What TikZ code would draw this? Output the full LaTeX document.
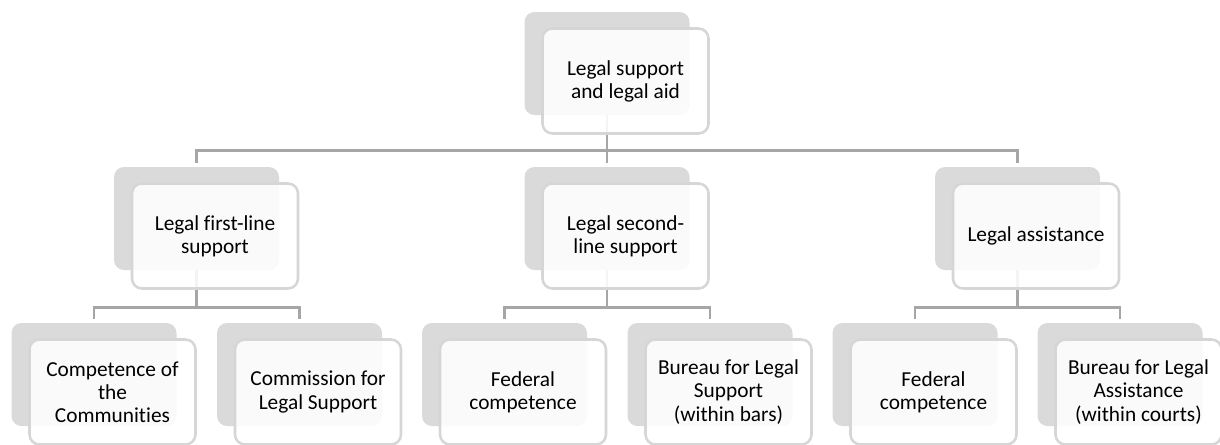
\documentclass[tikz,border=0pt]{standalone}
\usepackage{fontspec}
\setmainfont{Carlito}[Ligatures=NoCommon]
\usepackage{tikz}

\begin{document}
\begin{tikzpicture}[x=0.75pt,y=-0.75pt,
    backbox/.style={fill={rgb, 255:red, 218; green, 218; blue, 218 }, rounded corners=7.5pt, minimum width=123.75pt, minimum height=77.25pt, inner sep=0pt},
    frontbox/.style={draw={rgb, 255:red, 214; green, 214; blue, 214 }, line width=1.9pt, fill=white, fill opacity=0.88, text opacity=1, rounded corners=7.5pt, minimum width=124.5pt, minimum height=78.75pt, align=center, font=\fontsize{16}{17.3}\selectfont, inner sep=0pt},
    link/.style={draw={rgb, 255:red, 166; green, 166; blue, 166 }, line width=2pt, shorten >=3pt}]
        \useasboundingbox (0,0) rectangle (1220,444);

        % Back boxes
        \node [backbox] (legal-bg) at (607,63.5) {};
        \node [backbox] (firstline-bg) at (196.5,218.5) {};
        \node [backbox] (secondline-bg) at (607,218.5) {};
        \node [backbox] (assistance-bg) at (1017.5,218.5) {};
        \node [backbox] (communities-bg) at (94,374.5) {};
        \node [backbox] (commission-bg) at (299.5,374.5) {};
        \node [backbox] (federalbars-bg) at (504.5,374.5) {};
        \node [backbox] (bureaubars-bg) at (710,374.5) {};
        \node [backbox] (federalcourts-bg) at (915,374.5) {};
        \node [backbox] (bureaucourts-bg) at (1120,374.5) {};

        % Connectors
        \draw [link] (legal-bg.south) -- ++(0,35) -| (firstline-bg.north);
        \draw [link] (legal-bg.south) -- (secondline-bg.north);
        \draw [link] (legal-bg.south) -- ++(0,35) -| (assistance-bg.north);
        \draw [link] (firstline-bg.south) -- ++(0,37) -| (communities-bg.north);
        \draw [link] (firstline-bg.south) -- ++(0,37) -| (commission-bg.north);
        \draw [link] (secondline-bg.south) -- ++(0,37) -| (federalbars-bg.north);
        \draw [link] (secondline-bg.south) -- ++(0,37) -| (bureaubars-bg.north);
        \draw [link] (assistance-bg.south) -- ++(0,37) -| (federalcourts-bg.north);
        \draw [link] (assistance-bg.south) -- ++(0,37) -| (bureaucourts-bg.north);

        % Front boxes
        \node [frontbox] (legal) at (625.5,81) {Legal support\\and legal aid};
        \node [frontbox] (firstline) at (215,236) {Legal first-line\\support};
        \node [frontbox] (secondline) at (625.5,236) {Legal second-\\line support};
        \node [frontbox] (assistance) at (1036,236) {Legal assistance};
        \node [frontbox] (communities) at (112.5,392) {Competence of\\the\\Communities};
        \node [frontbox] (commission) at (318,392) {Commission for\\Legal Support};
        \node [frontbox] (federalbars) at (523,392) {Federal\\competence};
        \node [frontbox] (bureaubars) at (728.5,392) {Bureau for Legal\\Support\\(within bars)};
        \node [frontbox] (federalcourts) at (933.5,392) {Federal\\competence};
        \node [frontbox] (bureaucourts) at (1138.5,392) {Bureau for Legal\\Assistance\\(within courts)};

\end{tikzpicture}
\end{document}
